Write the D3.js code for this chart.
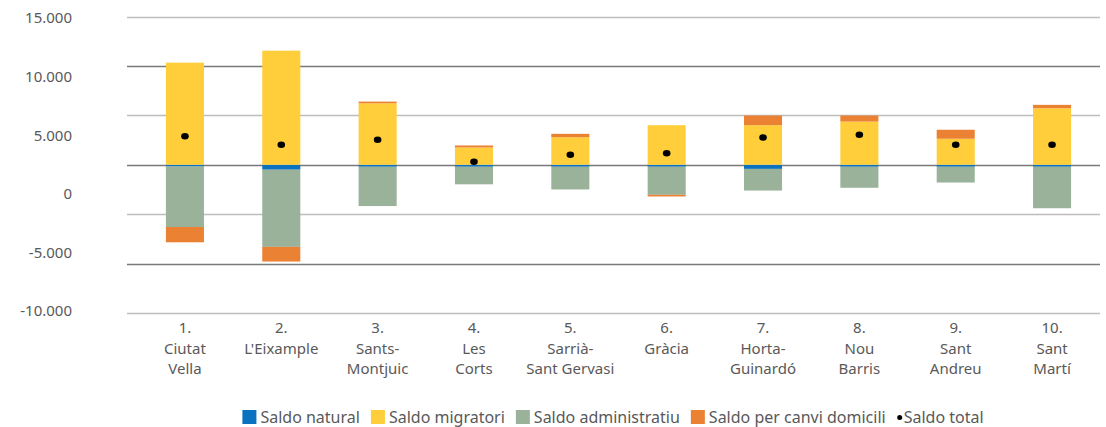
<!DOCTYPE html>
<html>
<head>
<meta charset="utf-8">
<script src="https://cdn.jsdelivr.net/npm/d3@7"></script>
<style>
  body { margin: 0; background: #fff; }
  text { font-family: "Noto Sans", "Liberation Sans", sans-serif; }
</style>
</head>
<body>
<div id="chart"></div>
<script>
// districts, each label split in lines
const districts = ["1", "2", "3", "4", "5", "6", "7", "8", "9", "10"];
const district_labels = [
  ["1.", "Ciutat", "Vella"],
  ["2.", "L'Eixample"],
  ["3.", "Sants-", "Montjuic"],
  ["4.", "Les", "Corts"],
  ["5.", "Sarrià-", "Sant Gervasi"],
  ["6.", "Gràcia"],
  ["7.", "Horta-", "Guinardó"],
  ["8.", "Nou", "Barris"],
  ["9.", "Sant", "Andreu"],
  ["10.", "Sant", "Martí"]
];

// series values
const saldo_natural        = [-170, -500, -200, -200, -200, -200, -420, -200, -200, -200];
const saldo_migratori      = [10330, 11540, 6220, 1750, 2790, 4000, 4000, 4370, 2630, 5720];
const saldo_administratiu  = [-6130, -7810, -3980, -1780, -2300, -2840, -2190, -2130, -1600, -4200];
const saldo_canvi_domicili = [-1545, -1485, 170, 200, 340, -170, 980, 610, 910, 340];
const saldo_total          = [2890, 2020, 2525, 300, 1010, 1170, 2760, 3030, 2020, 2020];

// tick labels
const y_tick_values = [15000, 10000, 5000, 0, -5000, -10000];
const grid_values = [15000, 10000, 5000, 0, -5000, -10000, -15000];

const series = [
  { key: "natural", name: "Saldo natural", color: "#0A72BE", values: saldo_natural },
  { key: "migratori", name: "Saldo migratori", color: "#FFCE3A", values: saldo_migratori },
  { key: "administratiu", name: "Saldo administratiu", color: "#9AB29A", values: saldo_administratiu },
  { key: "domicili", name: "Saldo per canvi domicili", color: "#EB8233", values: saldo_canvi_domicili }
];

const width = 1106, height = 427;

const svg = d3.select("#chart").append("svg")
  .attr("width", width)
  .attr("height", height);

const x_scale = d3.scaleBand()
  .domain(districts)
  .range([137, 1100])
  .paddingInner(0.605)
  .paddingOuter(0.3);

// scale used by bars, dots and gridlines
const y_scale = d3.scaleLinear()
  .domain([-15000, 15000])
  .range([313, 16.5]);

// the printed axis labels sit on their own spacing in the original
const y_label_scale = d3.scaleLinear()
  .domain([-10000, 15000])
  .range([311, 18]);

const locale = d3.formatLocale({ decimal: ",", thousands: ".", grouping: [3], currency: ["", " €"], minus: "-" });
const fmt = locale.format(",");

// gridlines
svg.append("g")
  .selectAll("line")
  .data(grid_values)
  .join("line")
    .attr("x1", 127)
    .attr("x2", 1100)
    .attr("y1", d => Math.round(y_scale(d)) + 0.5)
    .attr("y2", d => Math.round(y_scale(d)) + 0.5)
    .attr("stroke", d => d % 10000 === 0 ? "#7a7a7a" : "#bdbdbd")
    .attr("stroke-width", 1.3);

// y axis labels
const y_axis = svg.append("g")
  .attr("transform", "translate(72,0)")
  .call(d3.axisLeft(y_label_scale).tickValues(y_tick_values).tickFormat(fmt).tickSize(0).tickPadding(0));
y_axis.select(".domain").remove();
y_axis.selectAll("text")
  .attr("fill", "#595959")
  .style("font-size", "15px")
  .style("font-family", "\"Noto Sans\", sans-serif");

// stacked bars, positives above zero and negatives below
const table = districts.map((d, i) => {
  const row = { district: d };
  series.forEach(s => { row[s.key] = s.values[i]; });
  return row;
});

const stacked = d3.stack()
  .keys(series.map(s => s.key))
  .offset(d3.stackOffsetDiverging)(table);

svg.append("g")
  .selectAll("g")
  .data(stacked)
  .join("g")
    .attr("fill", (d, i) => series[i].color)
  .selectAll("rect")
  .data(d => d)
  .join("rect")
    .attr("x", d => x_scale(d.data.district))
    .attr("width", x_scale.bandwidth())
    .attr("y", d => y_scale(Math.max(d[0], d[1])))
    .attr("height", d => Math.abs(y_scale(d[0]) - y_scale(d[1])));

// saldo total dots
svg.append("g")
  .selectAll("ellipse")
  .data(saldo_total)
  .join("ellipse")
    .attr("cx", (d, i) => x_scale(districts[i]) + x_scale.bandwidth() / 2)
    .attr("cy", d => y_scale(d))
    .attr("rx", 3.8)
    .attr("ry", 3.3)
    .attr("fill", "#000");

// category labels
const cat = svg.append("g")
  .selectAll("text")
  .data(district_labels)
  .join("text")
    .attr("x", (d, i) => x_scale(districts[i]) + x_scale.bandwidth() / 2)
    .attr("y", 333)
    .attr("text-anchor", "middle")
    .attr("fill", "#595959")
    .style("font-size", "15px");
cat.selectAll("tspan")
  .data(d => d)
  .join("tspan")
    .attr("x", function() { return this.parentNode.getAttribute("x"); })
    .attr("dy", (d, i) => i === 0 ? 0 : 20.5)
    .text(d => d);

// legend
const legend_items = series.map(s => ({ name: s.name, color: s.color, type: "square" }))
  .concat([{ name: "Saldo total", color: "#000", type: "dot" }]);

const legend_gap = 11;
const legend = svg.append("g").attr("transform", "translate(0,417)");
let legend_x = 0;
legend_items.forEach(item => {
  const g = legend.append("g").attr("transform", `translate(${legend_x},0)`);
  let text_x;
  if (item.type === "square") {
    g.append("rect").attr("x", 0).attr("y", -7).attr("width", 14).attr("height", 14).attr("fill", item.color);
    text_x = 18;
  } else {
    g.append("circle").attr("cx", 3).attr("cy", 0.5).attr("r", 2.5).attr("fill", item.color);
    text_x = 7;
  }
  const t = g.append("text")
    .attr("x", text_x)
    .attr("y", 5.5)
    .attr("fill", "#595959")
    .style("font-size", "16px")
    .text(item.name);
  legend_x += text_x + t.node().getComputedTextLength() + legend_gap;
});
// center the legend under the plot
const legend_width = legend_x - legend_gap;
legend.attr("transform", `translate(${613 - legend_width / 2},417)`);
</script>
</body>
</html>
